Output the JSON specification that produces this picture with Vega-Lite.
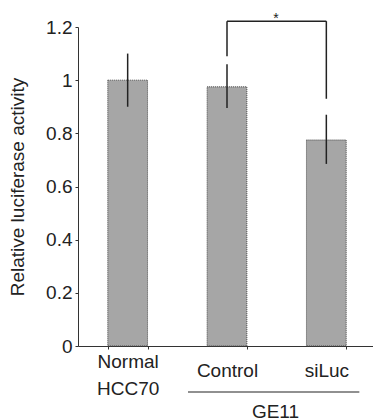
{
  "$schema": "https://vega.github.io/schema/vega-lite/v6.json",
  "autosize": "none",
  "padding": {"left": 78, "top": 27, "right": 0, "bottom": 74},
  "width": 298,
  "height": 319,
  "background": "white",
  "config": {
    "view": {"stroke": null},
    "font": "Liberation Sans",
    "axis": {
      "labelFont": "Liberation Sans",
      "titleFont": "Liberation Sans",
      "labelColor": "#222",
      "titleColor": "#222",
      "domainColor": "#333",
      "tickColor": "#333",
      "grid": false
    }
  },
  "datasets": {
    "bars": [
      {"group": "Normal HCC70", "value": 1.0, "low": 0.9, "high": 1.1},
      {"group": "Control", "value": 0.975, "low": 0.895, "high": 1.06},
      {"group": "siLuc", "value": 0.775, "low": 0.685, "high": 0.87}
    ],
    "pair": [
      {"a": "Control", "b": "siLuc", "mark": "*", "label": "GE11"}
    ]
  },
  "layer": [
    {
      "data": {"name": "bars"},
      "mark": {"type": "bar", "fill": "#a6a6a6", "stroke": "#444", "strokeWidth": 1, "strokeDash": [1, 1]},
      "encoding": {
        "x": {
          "field": "group", "type": "nominal",
          "scale": {"domain": ["Normal HCC70", "Control", "siLuc"], "paddingInner": 0.6, "paddingOuter": 0.3},
          "axis": {
            "title": "GE11",
            "titleFontSize": 19,
            "titleFontWeight": "normal",
            "titleX": 197,
            "titleY": 71,
            "titleBaseline": "alphabetic",
            "labelAngle": 0,
            "labelFontSize": 19,
            "labelBaseline": "middle",
            "labelLineHeight": 27,
            "labelPadding": {"condition": {"test": "datum.value == 'Normal HCC70'", "value": 12}, "value": 21},
            "labelExpr": "datum.value == 'Normal HCC70' ? ['Normal', 'HCC70'] : datum.label",
            "tickBand": "extent",
            "tickSize": 3,
            "domainWidth": 1
          }
        },
        "y": {
          "field": "value", "type": "quantitative",
          "scale": {"domain": [0, 1.2], "nice": false},
          "axis": {
            "title": "Relative luciferase activity",
            "titleFontSize": 19,
            "titleFontWeight": "normal",
            "titlePadding": 18,
            "values": [0, 0.2, 0.4, 0.6, 0.8, 1, 1.2],
            "format": "~g",
            "labelFontSize": 19,
            "labelPadding": 3,
            "tickSize": 3
          }
        }
      }
    },
    {
      "data": {"name": "bars"},
      "mark": {"type": "rule", "color": "#222", "strokeWidth": 1.5},
      "encoding": {
        "x": {"field": "group", "type": "nominal"},
        "y": {"field": "low", "type": "quantitative"},
        "y2": {"field": "high"}
      }
    },
    {
      "data": {"name": "pair"},
      "mark": {"type": "rule", "color": "#222", "strokeWidth": 1.5},
      "encoding": {
        "x": {"field": "a", "type": "nominal"},
        "x2": {"field": "b"},
        "y": {"datum": 1.222}
      }
    },
    {
      "data": {"name": "pair"},
      "mark": {"type": "rule", "color": "#222", "strokeWidth": 1.5},
      "encoding": {
        "x": {"field": "a", "type": "nominal"},
        "y": {"datum": 1.09},
        "y2": {"datum": 1.222}
      }
    },
    {
      "data": {"name": "pair"},
      "mark": {"type": "rule", "color": "#222", "strokeWidth": 1.5},
      "encoding": {
        "x": {"field": "b", "type": "nominal"},
        "y": {"datum": 0.93},
        "y2": {"datum": 1.222}
      }
    },
    {
      "data": {"name": "pair"},
      "mark": {"type": "text", "fontSize": 14, "color": "#222", "xOffset": 49, "baseline": "middle", "dy": 4},
      "encoding": {
        "x": {"field": "a", "type": "nominal"},
        "y": {"datum": 1.245},
        "text": {"field": "mark"}
      }
    },
    {
      "data": {"name": "pair"},
      "mark": {"type": "rule", "color": "#222", "strokeWidth": 1.2, "xOffset": -39, "x2Offset": 33},
      "encoding": {
        "x": {"field": "a", "type": "nominal"},
        "x2": {"field": "b"},
        "y": {"datum": -0.173}
      }
    }
  ]
}
